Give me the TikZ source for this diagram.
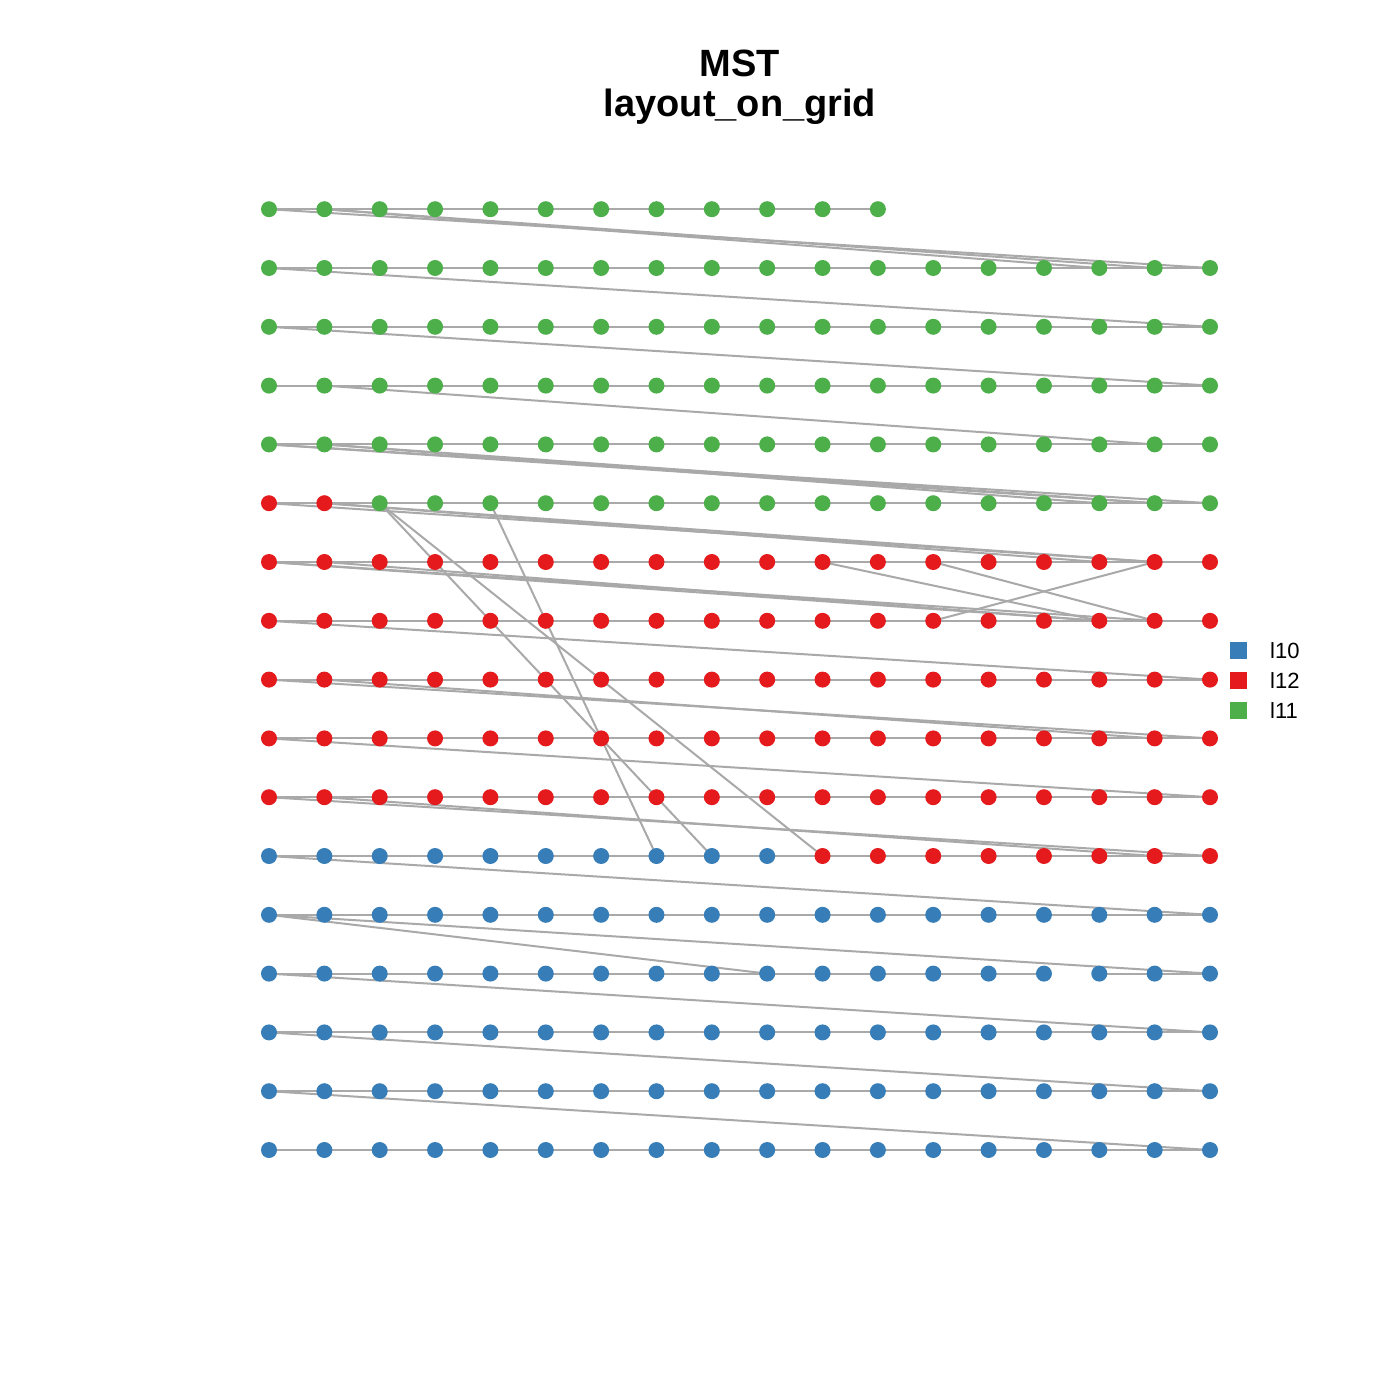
\documentclass[tikz,border=0pt]{standalone}
\usepackage{fontspec}
\setmainfont{Liberation Sans}
\definecolor{cgreen}{HTML}{4DAF4A}
\definecolor{cred}{HTML}{E41A1C}
\definecolor{cblue}{HTML}{377EB8}
\definecolor{edgegray}{RGB}{169,169,169}
\pgfdeclarelayer{paper}
\pgfdeclarelayer{links}
\pgfsetlayers{paper,links,main}
\begin{document}
\begin{tikzpicture}[x=1pt,y=-1pt,
  vtx/.style={circle,inner sep=0pt,minimum size=16pt,draw=none},
  mstedge/.style={draw=edgegray,line width=2pt},
  legsq/.style={rectangle,inner sep=0pt,minimum size=17pt,draw=none},
  legtxt/.style={anchor=base west,inner sep=0pt,font=\fontsize{22}{26}\selectfont},
  titletxt/.style={anchor=base,inner sep=0pt,font=\bfseries\fontsize{38}{44}\selectfont}]
\useasboundingbox (0,0) rectangle (1400,1400);
\begin{pgfonlayer}{paper}
\fill[white] (0,0) rectangle (1400,1400);
\end{pgfonlayer}
% vertices
\foreach \r in {0,...,16}{
  \pgfmathtruncatemacro{\maxc}{\r==16 ? 11 : 17}
  \foreach \c in {0,...,\maxc}{
    \pgfmathtruncatemacro{\idx}{18*\r+\c}
    \ifnum\idx<100 \def\vcol{cblue}\else\ifnum\idx<200 \def\vcol{cred}\else\def\vcol{cgreen}\fi\fi
    \node[vtx,fill=\vcol] (n-\r-\c) at ({269+55.353*\c},{1150-58.8*\r}) {};
  }
}
\begin{pgfonlayer}{links}
% horizontal edges
\foreach \r in {0,...,16}{
  \pgfmathtruncatemacro{\maxc}{\r==16 ? 10 : 16}
  \foreach \c in {0,...,\maxc}{
    \pgfmathtruncatemacro{\nc}{\c+1}
    \pgfmathtruncatemacro{\skip}{(\r==3 && \c==14) ? 1 : 0}
    \ifnum\skip=0
      \draw[mstedge] (n-\r-\c.center) -- (n-\r-\nc.center);
    \fi
  }
}
% other edges
\foreach \a/\b in {16-0/15-17, 16-1/15-16, 16-1/15-15,
  15-0/14-17, 14-0/13-17, 13-1/12-16,
  12-0/11-17, 12-0/11-16, 12-1/11-16, 12-1/11-15,
  11-0/10-16, 11-1/10-16, 11-1/10-15,
  10-0/9-16, 10-1/9-15, 10-0/9-15,
  9-0/8-17, 8-0/7-17, 8-1/7-16, 7-0/6-17,
  6-0/5-17, 6-1/5-16, 5-0/4-17,
  4-0/3-17, 4-0/3-9, 3-0/2-17, 2-0/1-17, 1-0/0-17,
  11-2/5-8, 11-2/5-10, 11-4/5-7,
  10-10/9-15, 10-12/9-16, 9-12/10-16}
  \draw[mstedge] (n-\a.center) -- (n-\b.center);
\end{pgfonlayer}
% title
\node[titletxt] (t1) at (740,76) {MST};
\node[titletxt] (t2) at (740,116) {layout\_on\_grid};
% legend
\node[legsq,fill=cblue] (lg1) at (1238,650) {};
\node[legsq,fill=cred] (lg2) at (1238,680) {};
\node[legsq,fill=cgreen] (lg3) at (1238,710) {};
\node[legtxt] (lt1) at (1270,658.5) {l10};
\node[legtxt] (lt2) at (1270,688.5) {l12};
\node[legtxt] (lt3) at (1270,718.5) {l11};
\end{tikzpicture}
\end{document}
